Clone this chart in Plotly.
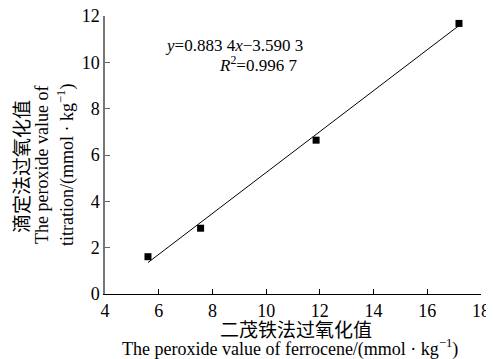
import plotly.graph_objects as go

# Data
ferrocene = [5.6, 7.56, 11.86, 17.18]
titration = [1.61, 2.84, 6.64, 11.68]
slope = 0.8834
intercept = -3.5903
fit_x = [5.6, 17.2]
fit_y = [slope * v + intercept for v in fit_x]

x_ticks = [4, 6, 8, 10, 12, 14, 16, 18]
y_ticks = [0, 2, 4, 6, 8, 10, 12]

OFF = 8  # page body margin of the html page
W, H = 494 - OFF, 359 - OFF
L, R, T, B = 105 - OFF, 13, 16 - OFF, 65
pw, ph = W - L - R, H - T - B

def px(xp):
    return (xp - OFF - L) / pw

def py(yp):
    return (H - B - (yp - OFF)) / ph

serif = "Liberation Serif"
cjk = "Noto Sans CJK SC"

fig = go.Figure()
fig.add_trace(go.Scatter(x=fit_x, y=fit_y, mode="lines",
                         line=dict(color="black", width=1), showlegend=False))
fig.add_trace(go.Scatter(x=ferrocene, y=titration, mode="markers",
                         marker=dict(symbol="square", size=7, color="black"),
                         showlegend=False))

fig.update_layout(
    width=W, height=H, autosize=False,
    margin=dict(l=L, r=R, t=T, b=B, pad=0),
    plot_bgcolor="white", paper_bgcolor="white",
    font=dict(family=serif, size=18, color="black"),
    xaxis=dict(range=[4, 18], tickvals=x_ticks, ticks="inside", ticklen=5,
               tickcolor="black", showline=True, linecolor="black", linewidth=1,
               showgrid=False, zeroline=False, automargin=False,
               ticklabeloverflow="allow", tickfont=dict(family=serif, size=18)),
    yaxis=dict(range=[0, 12], tickvals=y_ticks, ticks="inside", ticklen=5,
               tickcolor="#666", showline=True, linecolor="#777", linewidth=1.5,
               showgrid=False, zeroline=False, automargin=False,
               ticklabeloverflow="allow", tickfont=dict(family=serif, size=18)),
)

def note(text, x, y, size, family=serif, angle=0, anchor="center"):
    return dict(text=text, x=px(x), y=py(y), xref="paper", yref="paper",
                textangle=angle, showarrow=False, xanchor=anchor, yanchor="middle",
                font=dict(family=family, size=size, color="black"))

ann = [
    note("滴定法过氧化值", 20, 167, 19, cjk, -90),
    note("The peroxide value of", 42, 165, 18, serif, -90),
    note("titration/(mmol · kg<sup>−1</sup>)", 66, 165, 18, serif, -90),
    note("二茂铁法过氧化值", 296, 328, 19, cjk),
    note("The peroxide value of ferrocene/(mmol · kg<sup>−1</sup>)", 290, 348, 18),
    note("<i>y</i>=0.883 4<i>x</i>−3.590 3", 163, 45, 17, anchor="left"),
    note("<i>R</i><sup>2</sup>=0.996 7", 217, 64, 17, anchor="left"),
]
fig.update_layout(annotations=ann)

fig.write_html("out.html")
